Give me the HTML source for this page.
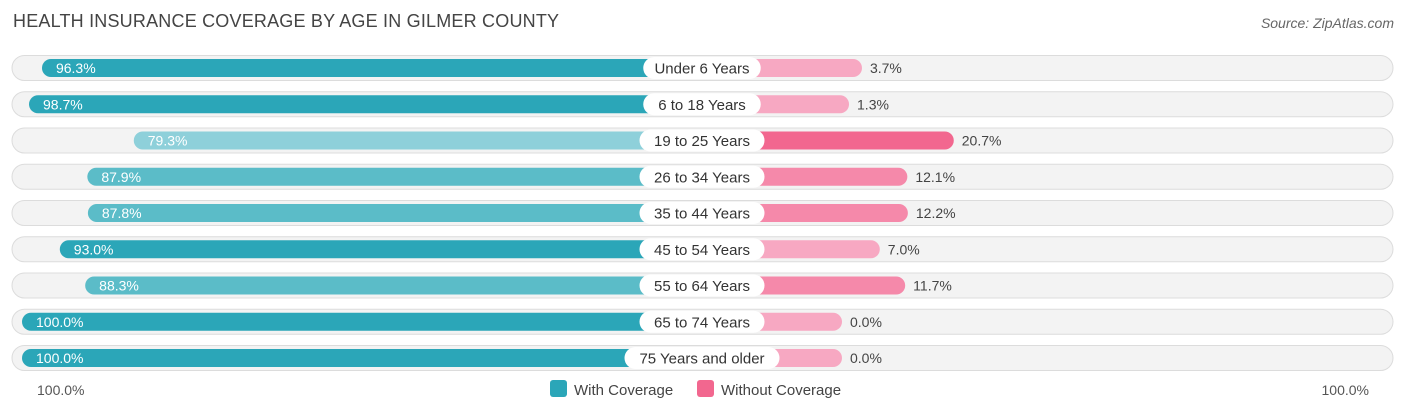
<!DOCTYPE html>
<html><head><meta charset="utf-8"><style>
body{margin:0;width:1406px;height:414px;background:#fff;font-family:"Liberation Sans",sans-serif;overflow:hidden}
.title{position:absolute;left:13px;top:11px;font-size:18px;color:#444;letter-spacing:0.2px}
.src{position:absolute;right:12px;top:15px;font-size:14px;color:#666;font-style:italic}
</style></head><body>
<div class="title">HEALTH INSURANCE COVERAGE BY AGE IN GILMER COUNTY</div>
<div class="src">Source: ZipAtlas.com</div>
<svg id="chart" width="1406" height="414" style="position:absolute;left:0;top:0"></svg>
<script>
const categories=["Under 6 Years","6 to 18 Years","19 to 25 Years","26 to 34 Years","35 to 44 Years","45 to 54 Years","55 to 64 Years","65 to 74 Years","75 Years and older"];
const withCov=[96.3,98.7,79.3,87.9,87.8,93.0,88.3,100.0,100.0];
const withoutCov=[3.7,1.3,20.7,12.1,12.2,7.0,11.7,0.0,0.0];
const axisLabels=["100.0%","100.0%"];
const NS="http://www.w3.org/2000/svg";
const svg=document.getElementById('chart');
const cx=702,base=140,k=5.4,y0=68,dy=36.25,bh=18;
function w(v){return base+v*k;}
function y(i){return y0+i*dy;}
function mk(t,a,p){const e=document.createElementNS(NS,t);for(const key in a)e.setAttribute(key,a[key]);(p||svg).appendChild(e);return e;}
function tealC(v){return v>=93?'#2ba6b8':(v>=85?'#5bbcc8':'#8ed0da');}
function pinkC(v){return v>=18?'#f2678f':(v>=10?'#f589aa':'#f7a8c2');}
categories.forEach((c,i)=>{
  const g=mk('g',{});
  
  
  const bg=mk('rect',{x:12,y:y(i)-12.5,width:1381,height:25,rx:12.5,fill:'#f3f3f3',stroke:'#dcdcdc','stroke-width':1},g);
  
  
  const lw=w(withCov[i]);
  const b1=mk('rect',{x:cx-lw,y:y(i)-bh/2,width:lw,height:bh,rx:9,fill:tealC(withCov[i])},g);
  
  
  const rw=w(withoutCov[i]);
  const b2=mk('rect',{x:cx,y:y(i)-bh/2,width:rw,height:bh,rx:9,fill:pinkC(withoutCov[i])},g);
  
  
  const t1=mk('text',{x:cx-lw+14,y:y(i)+5,'font-size':14,fill:'#fff'},g);
  t1.textContent=withCov[i].toFixed(1)+'%';
  
  
  const t2=mk('text',{x:cx+rw+8,y:y(i)+5,'font-size':14,fill:'#444'},g);
  t2.textContent=withoutCov[i].toFixed(1)+'%';
  
  
  const tw=c.length*7.5+20;
  const pill=mk('rect',{x:cx-tw/2,y:y(i)-11,width:tw,height:22,rx:11,fill:'#fff'},g);
  
  
  const lab=mk('text',{x:cx,y:y(i)+5.5,'font-size':15,fill:'#333','text-anchor':'middle'},g);
  lab.textContent=c;
  
  
});
const a1=mk('text',{x:37,y:395,'font-size':14,fill:'#555'});a1.textContent=axisLabels[0];


const a2=mk('text',{x:1369,y:395,'font-size':14,fill:'#555','text-anchor':'end'});a2.textContent=axisLabels[1];


const l1=mk('rect',{x:550,y:380,width:17,height:17,rx:3,fill:'#2ba6b8'});


const lt1=mk('text',{x:574,y:395,'font-size':15,fill:'#444'});lt1.textContent='With Coverage';


const l2=mk('rect',{x:697,y:380,width:17,height:17,rx:3,fill:'#f2678f'});


const lt2=mk('text',{x:721,y:395,'font-size':15,fill:'#444'});lt2.textContent='Without Coverage';


</script>
</body></html>
